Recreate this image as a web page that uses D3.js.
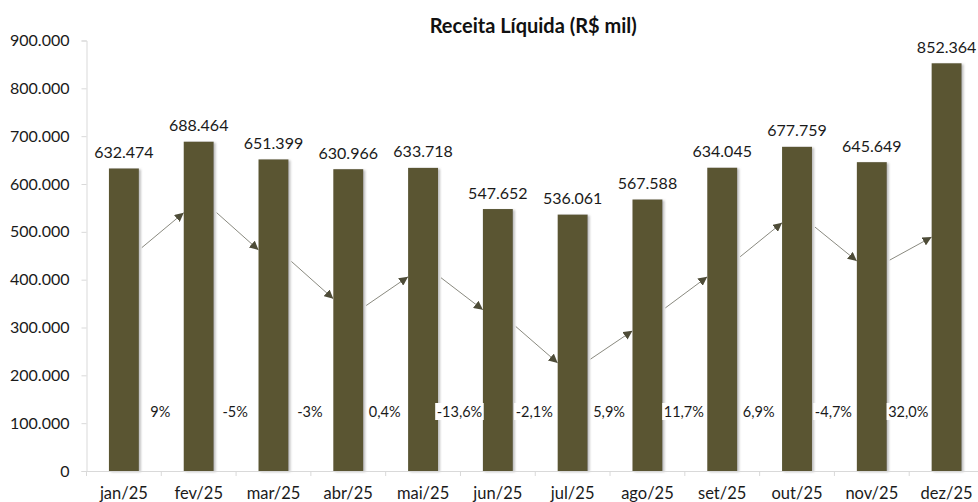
<!DOCTYPE html>
<html>
<head>
<meta charset="utf-8">
<script src="https://cdn.jsdelivr.net/npm/d3@7"></script>
<style>
  body { margin: 0; background: #fff; }
  svg { display: block; font-family: Lato, "Open Sans", sans-serif; }
</style>
</head>
<body>
<svg id="chart"></svg>
<script>
// monthly net revenue, R$ mil
const months = ["jan/25", "fev/25", "mar/25", "abr/25", "mai/25", "jun/25",
                "jul/25", "ago/25", "set/25", "out/25", "nov/25", "dez/25"];
const revenue = [632474, 688464, 651399, 630966, 633718, 547652,
                 536061, 567588, 634045, 677759, 645649, 852364];
// month over month change labels, as printed
const changeLabels = ["9%", "-5%", "-3%", "0,4%", "-13,6%", "-2,1%",
                      "5,9%", "11,7%", "6,9%", "-4,7%", "32,0%"];
// decorative arrows between bars (start / end level, in R$ mil)
const arrowFrom = [467000, 540000, 438000, 346000, 404000, 302000,
                   234000, 341000, 448000, 510000, 441000];
const arrowTo = [540000, 462000, 360000, 406000, 337000, 226000,
                 293000, 406000, 519000, 439000, 489000];
const yTicks = [0, 100000, 200000, 300000, 400000, 500000, 600000, 700000, 800000, 900000];

const width = 978, height = 502;
const margin = { top: 40.5, right: -6, bottom: 31, left: 86.5 };

const br = d3.formatLocale({ decimal: ",", thousands: ".", grouping: [3], currency: ["R$", ""] });
const fmt = br.format(",d");

const svg = d3.select("#chart").attr("width", width).attr("height", height);

const defs = svg.append("defs");
const shadow = defs.append("filter").attr("id", "shadow")
  .attr("x", "-20%").attr("y", "-5%").attr("width", "150%").attr("height", "115%");
shadow.append("feDropShadow")
  .attr("dx", 2).attr("dy", 1).attr("stdDeviation", 1)
  .attr("flood-color", "#8a8a8a").attr("flood-opacity", 0.55);

defs.append("marker")
  .attr("id", "head")
  .attr("viewBox", "0 0 10 10")
  .attr("refX", 10).attr("refY", 5)
  .attr("markerWidth", 9).attr("markerHeight", 9)
  .attr("markerUnits", "userSpaceOnUse")
  .attr("orient", "auto")
  .append("path")
  .attr("d", "M0,0 L10,5 L0,10 Z")
  .attr("fill", "#4e4c38");

const x = d3.scaleBand()
  .domain(months)
  .range([margin.left, width - margin.right])
  .paddingInner(0.6)
  .paddingOuter(0.3);

const y = d3.scaleLinear()
  .domain([0, 900000])
  .range([height - margin.bottom, margin.top]);

const gap = x.step() - x.bandwidth();

// title
svg.append("text")
  .attr("x", (margin.left + width - margin.right) / 2 - 2)
  .attr("y", 33)
  .attr("text-anchor", "middle")
  .style("font-size", "20px")
  .style("font-weight", "bold")
  .style("fill", "#111")
  .text("Receita Líquida (R$ mil)");

// y axis
const yAxis = svg.append("g")
  .attr("transform", `translate(${margin.left},0)`)
  .call(d3.axisLeft(y).tickValues(yTicks).tickFormat(fmt).tickSize(5).tickPadding(12));
yAxis.select(".domain").attr("stroke", "#d9d9d9");
yAxis.selectAll(".tick line").attr("stroke", "#d9d9d9");
yAxis.selectAll(".tick text")
  .style("font-size", "16px").style("font-family", "Lato, sans-serif").attr("fill", "#1a1a1a");

// bars
svg.append("g")
  .selectAll("rect")
  .data(revenue)
  .join("rect")
  .attr("x", (d, i) => x(months[i]))
  .attr("y", d => y(d))
  .attr("width", x.bandwidth())
  .attr("height", d => y(0) - y(d))
  .attr("fill", "#5a5533")
  .attr("filter", "url(#shadow)");

// x axis
const xAxis = svg.append("g")
  .attr("transform", `translate(0,${y(0)})`)
  .call(d3.axisBottom(x).tickSize(0).tickPadding(0));
xAxis.select(".domain").attr("stroke", "#d9d9d9");
xAxis.selectAll(".tick text")
  .attr("y", 28).attr("dy", 0)
  .style("font-size", "16.5px").style("font-family", "Lato, sans-serif").attr("fill", "#1a1a1a");

// boundary ticks between months
const bounds = months.map(m => x(m) - gap / 2).concat([x(months[11]) + x.bandwidth() + gap / 2]);
xAxis.selectAll(".bound")
  .data(bounds)
  .join("line")
  .attr("class", "bound")
  .attr("x1", d => d).attr("x2", d => d)
  .attr("y1", 0).attr("y2", 5)
  .attr("stroke", "#d9d9d9");

// value labels
svg.append("g")
  .selectAll("text")
  .data(revenue)
  .join("text")
  .attr("x", (d, i) => x(months[i]) + x.bandwidth() / 2)
  .attr("y", d => y(d) - 10.5)
  .attr("text-anchor", "middle")
  .style("font-size", "16px")
  .style("fill", "#1a1a1a")
  .text(d => fmt(d));

// arrows between bars
svg.append("g")
  .selectAll("line")
  .data(arrowFrom)
  .join("line")
  .attr("x1", (d, i) => x(months[i]) + x.bandwidth() + 3)
  .attr("y1", d => y(d))
  .attr("x2", (d, i) => x(months[i + 1]))
  .attr("y2", (d, i) => y(arrowTo[i]))
  .attr("stroke", "#8a8a80")
  .attr("stroke-width", 1)
  .attr("marker-end", "url(#head)");

// change labels at month boundaries
const changes = svg.append("g")
  .selectAll("g")
  .data(changeLabels)
  .join("g")
  .attr("transform", (d, i) => `translate(${x(months[i + 1]) - gap / 2 - 1},417)`);
const changeText = changes.append("text")
  .attr("text-anchor", "middle")
  .style("font-size", "14.5px")
  .style("fill", "#1a1a1a")
  .text(d => d);
changeText.each(function () {
  const b = this.getBBox();
  d3.select(this.parentNode).insert("rect", "text")
    .attr("x", b.x - 1.5).attr("y", b.y)
    .attr("width", b.width + 3).attr("height", b.height)
    .attr("fill", "#fff");
});
</script>
</body>
</html>
